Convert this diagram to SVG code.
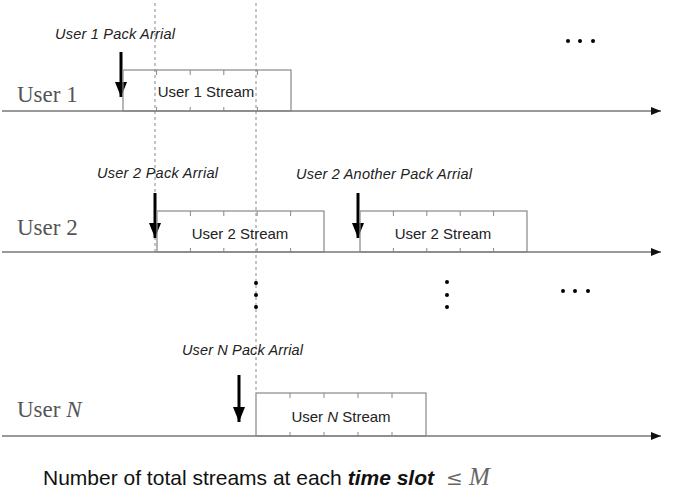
<svg xmlns="http://www.w3.org/2000/svg" width="686" height="497" viewBox="0 0 686 497">
<defs>
<marker id="axhead" markerWidth="10" markerHeight="8" refX="10" refY="4" orient="auto" markerUnits="userSpaceOnUse">
<path d="M0,0 L10,4 L0,8 Z" fill="#111"/>
</marker>
<marker id="arrhead" markerWidth="12" markerHeight="15" refX="6" refY="15" orient="0" markerUnits="userSpaceOnUse">
<path d="M0,0 L12,0 L6,15 Z" fill="#000"/>
</marker>
</defs>
<style>
.axis{stroke:#777;stroke-width:1.6;fill:none}
.dash{stroke:#888;stroke-width:1;stroke-dasharray:3 3;fill:none}
.box{stroke:#888;stroke-width:1.2;fill:none}
.tick{stroke:#888;stroke-width:1}
.arr{stroke:#000;stroke-width:3;fill:none}
.user{font-family:"Liberation Serif",serif;font-size:23px;fill:#555}
.lbl{font-family:"Liberation Sans",Arial,sans-serif;font-size:14.5px;font-style:italic;fill:#222}
.str{font-family:"Liberation Sans",Arial,sans-serif;font-size:15px;fill:#222;text-anchor:middle}
.dot{fill:#000}
</style>
<rect width="686" height="497" fill="#fff"/>

<g id="guides">
<line class="dash" x1="155" y1="3" x2="155" y2="252"/>
<line class="dash" x1="256" y1="3" x2="256" y2="393"/>
</g>

<g id="connectors">
<line class="axis" x1="2" y1="111" x2="661" y2="111" marker-end="url(#axhead)"/>
<line class="axis" x1="2" y1="252" x2="661" y2="252" marker-end="url(#axhead)"/>
<line class="axis" x1="2" y1="436" x2="661" y2="436" marker-end="url(#axhead)"/>
<line class="arr" x1="121" y1="52" x2="121" y2="97" marker-end="url(#arrhead)"/>
<line class="arr" x1="155" y1="193" x2="155" y2="238" marker-end="url(#arrhead)"/>
<line class="arr" x1="358" y1="193" x2="358" y2="238" marker-end="url(#arrhead)"/>
<line class="arr" x1="239" y1="375" x2="239" y2="422" marker-end="url(#arrhead)"/>
</g>

<g id="user1">
<text class="user" x="17" y="102">User 1</text>
<text class="lbl" x="55" y="39" textLength="120">User 1 Pack Arrial</text>
</g>
<g id="user1-stream">
<rect class="box" x="123" y="70" width="168" height="41"/>
<path class="tick" d="M156.6,70v5M190.2,70v5M223.8,70v5M257.4,70v5M156.6,111v-4M190.2,111v-4M223.8,111v-4M257.4,111v-4"/>
<text class="str" x="206" y="97">User 1 Stream</text>
</g>

<g id="user2">
<text class="user" x="17" y="235">User 2</text>
<text class="lbl" x="97" y="178" textLength="121">User 2 Pack Arrial</text>
<text class="lbl" x="296" y="179" textLength="176">User 2 Another Pack Arrial</text>
</g>
<g id="user2-stream-a">
<rect class="box" x="157" y="211" width="167" height="41"/>
<path class="tick" d="M190.4,211v5M223.8,211v5M257.2,211v5M290.6,211v5M190.4,252v-4M223.8,252v-4M257.2,252v-4M290.6,252v-4"/>
<text class="str" x="240" y="239">User 2 Stream</text>
</g>
<g id="user2-stream-b">
<rect class="box" x="360" y="211" width="167" height="41"/>
<path class="tick" d="M393.4,211v5M426.8,211v5M460.2,211v5M493.6,211v5M393.4,252v-4M426.8,252v-4M460.2,252v-4M493.6,252v-4"/>
<text class="str" x="443" y="239">User 2 Stream</text>
</g>

<g id="userN">
<text class="user" x="17" y="417">User <tspan font-style="italic">N</tspan></text>
<text class="lbl" x="182" y="355" textLength="121">User N Pack Arrial</text>
</g>
<g id="userN-stream">
<rect class="box" x="256" y="393" width="170" height="43"/>
<path class="tick" d="M290,393v5M324,393v5M358,393v5M392,393v5M290,436v-4M324,436v-4M358,436v-4M392,436v-4"/>
<text class="str" x="341" y="422">User <tspan font-style="italic">N</tspan> Stream</text>
</g>

<g id="ellipses">
<circle class="dot" cx="568" cy="41" r="2"/>
<circle class="dot" cx="580" cy="41" r="2"/>
<circle class="dot" cx="593" cy="41" r="2"/>
<circle class="dot" cx="256" cy="283" r="2"/>
<circle class="dot" cx="256" cy="295" r="2"/>
<circle class="dot" cx="256" cy="307" r="2"/>
<circle class="dot" cx="447" cy="282" r="2"/>
<circle class="dot" cx="447" cy="295" r="2"/>
<circle class="dot" cx="447" cy="307" r="2"/>
<circle class="dot" cx="563" cy="291" r="2"/>
<circle class="dot" cx="575" cy="291" r="2"/>
<circle class="dot" cx="588" cy="291" r="2"/>
</g>

<g id="caption">
<text x="43" y="485" font-family="Liberation Sans, Arial, sans-serif" font-size="21" fill="#111">Number of total streams at each <tspan font-weight="bold" font-style="italic">time slot</tspan></text>
<text x="446" y="485" font-family="DejaVu Serif, serif" font-size="20" fill="#666">≤</text>
<text x="469" y="485" font-family="Liberation Serif, serif" font-style="italic" font-size="25" fill="#666">M</text>
</g>
</svg>
